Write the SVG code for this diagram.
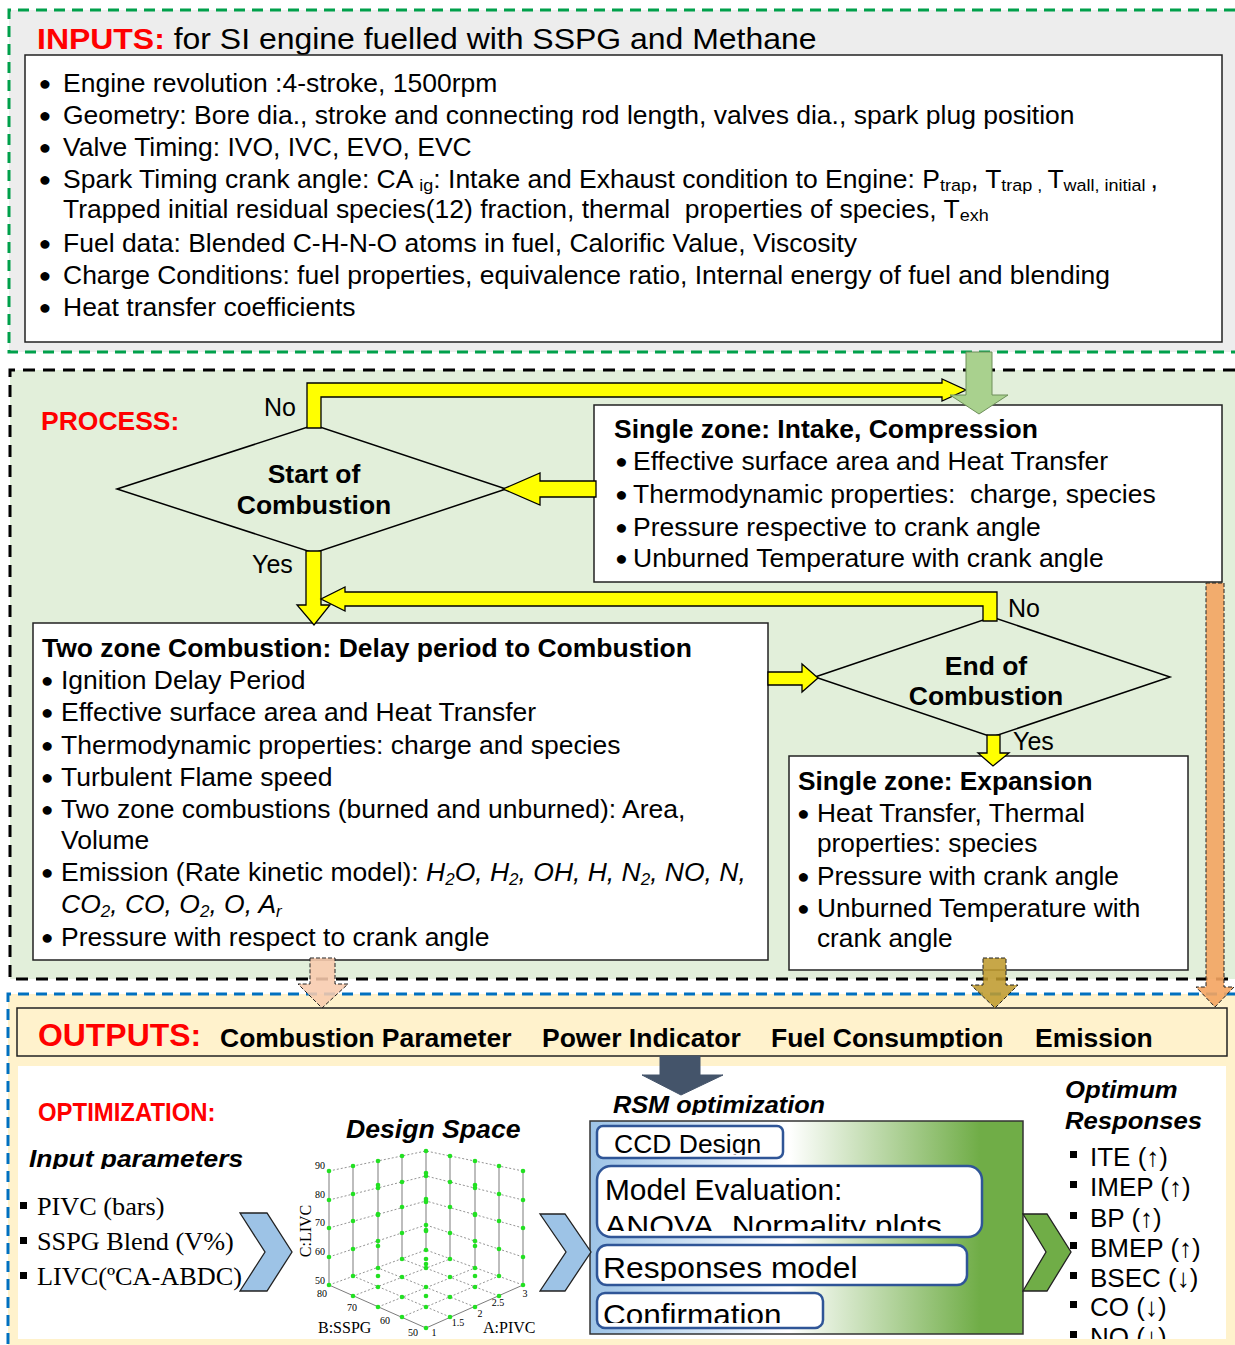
<svg xmlns="http://www.w3.org/2000/svg" width="1235" height="1345" viewBox="0 0 1235 1345">
<defs>
<style>
.t{font-family:"Liberation Sans",Arial,sans-serif;font-size:25px;fill:#000}
.bd{font-weight:bold}
.it{font-style:italic}
.red{fill:#ff0000}
.sub{font-size:16px}
.bu{font-size:20px;text-anchor:middle}
.sv{font-family:"Liberation Serif","Times New Roman",serif;font-size:25px;fill:#000}
.tk{font-family:"Liberation Serif","Times New Roman",serif;font-size:10px;fill:#000}
.ax{font-family:"Liberation Serif","Times New Roman",serif;font-size:16px;fill:#000}
.box{fill:#fff;stroke:#222;stroke-width:1.5}
.dia{fill:none;stroke:#000;stroke-width:1.5}
.yel{fill:#ffff00;stroke:#000;stroke-width:1.3}
.rb{fill:#fff;stroke:#2f5597;stroke-width:2.5}
.gl{stroke:#444;stroke-width:.7;fill:none}
.gd{stroke:#666;stroke-width:.7;stroke-dasharray:2,2;fill:none}
.dsh{stroke:#222;stroke-width:1;stroke-dasharray:4,2}
</style>
<linearGradient id="rsmGrad" x1="0" y1="0" x2="1" y2="0">
<stop offset="0" stop-color="#9dc3e6"/><stop offset="0.46" stop-color="#ffffff"/><stop offset="0.9" stop-color="#70ad47"/><stop offset="1" stop-color="#70ad47"/>
</linearGradient>
<clipPath id="cOut"><rect x="17" y="1008" width="1210" height="40"/></clipPath>
<clipPath id="cPanel"><rect x="18" y="1066" width="1208" height="273"/></clipPath>
<clipPath id="cInp"><rect x="18" y="1130" width="300" height="39"/></clipPath>
<clipPath id="cRsm"><rect x="590" y="1085" width="300" height="30"/></clipPath>
<clipPath id="cCcd"><rect x="597" y="1127" width="185" height="28"/></clipPath>
<clipPath id="cMod"><rect x="597" y="1167" width="383" height="64"/></clipPath>
<clipPath id="cResp"><rect x="597" y="1246" width="368" height="35"/></clipPath>
<clipPath id="cConf"><rect x="597" y="1294" width="224" height="29"/></clipPath>
<circle id="dot" r="2.3" fill="#22e022"/>
</defs>

<!-- backgrounds and region borders -->
<rect x="9" y="10" width="1226" height="342" fill="#ededed"/>
<rect x="10" y="370" width="1225" height="609" fill="#e2efda"/>
<rect x="8" y="994" width="1227" height="351" fill="#fff2cc"/>
<path d="M1235,10 H9 V352 H1235" fill="none" stroke="#00a04b" stroke-width="3" stroke-dasharray="11,7"/>
<path d="M1235,370 H10 V979 H1235" fill="none" stroke="#000" stroke-width="3" stroke-dasharray="12,8"/>
<path d="M1235,994 H8 V1345" fill="none" stroke="#0070c0" stroke-width="3" stroke-dasharray="11,7"/>

<!-- INPUTS -->
<g id="inputs">
<g transform="translate(37,0) scale(1.065,1)">
<text x="0" y="49" class="t bd red" style="font-size:30px">INPUTS:<tspan style="font-weight:normal;fill:#000"> for SI engine fuelled with SSPG and Methane</tspan></text>
</g>
<rect x="25" y="55" width="1197" height="287" class="box"/>
<g transform="translate(63,0) scale(1.06,1)" class="t">
<text x="-17" y="90" class="bu">●</text><text x="0" y="92">Engine revolution :4-stroke, 1500rpm</text>
<text x="-17" y="122" class="bu">●</text><text x="0" y="124">Geometry: Bore dia., stroke and connecting rod length, valves dia., spark plug position</text>
<text x="-17" y="154" class="bu">●</text><text x="0" y="156">Valve Timing: IVO, IVC, EVO, EVC</text>
<text x="-17" y="186" class="bu">●</text><text x="0" y="188">Spark Timing crank angle: CA <tspan style="font-size:17px" dy="3">ig</tspan><tspan dy="-3">: Intake and Exhaust condition to Engine: P</tspan><tspan style="font-size:17px" dy="3">trap</tspan><tspan dy="-3">, T</tspan><tspan style="font-size:17px" dy="3">trap , </tspan><tspan dy="-3">T</tspan><tspan style="font-size:17px" dy="3">wall, initial </tspan><tspan dy="-3">,</tspan></text>
<text x="0" y="218" style="white-space:pre">Trapped initial residual species(12) fraction, thermal  properties of species, T<tspan style="font-size:17px" dy="3">exh</tspan></text>
<text x="-17" y="250" class="bu">●</text><text x="0" y="252">Fuel data: Blended C-H-N-O atoms in fuel, Calorific Value, Viscosity</text>
<text x="-17" y="282" class="bu">●</text><text x="0" y="284">Charge Conditions: fuel properties, equivalence ratio, Internal energy of fuel and blending</text>
<text x="-17" y="314" class="bu">●</text><text x="0" y="316">Heat transfer coefficients</text>
</g>
</g>

<!-- PROCESS -->
<g id="process-label">
<g transform="translate(41,0) scale(1.06,1)"><text x="0" y="430" class="t bd red">PROCESS:</text></g>
</g>

<g id="start-of-combustion">
<polygon points="117,489 314,425 506,489 314,553" class="dia"/>
<g transform="translate(314,0) scale(1.06,1)" class="t bd">
<text x="0" y="483" text-anchor="middle">Start of</text>
<text x="0" y="514" text-anchor="middle">Combustion</text>
</g>
<text x="264" y="416" class="t">No</text>
<text x="252" y="573" class="t">Yes</text>
</g>

<g id="single-zone-intake">
<rect x="594" y="405" width="628" height="177" class="box"/>
<g transform="translate(614,0) scale(1.06,1)"><text x="0" y="438" class="t bd">Single zone: Intake, Compression</text></g>
<g transform="translate(633,0) scale(1.06,1)" class="t">
<text x="-11" y="468" class="bu">●</text><text x="0" y="470">Effective surface area and Heat Transfer</text>
<text x="-11" y="501" class="bu">●</text><text x="0" y="503" style="white-space:pre">Thermodynamic properties:  charge, species</text>
<text x="-11" y="534" class="bu">●</text><text x="0" y="536">Pressure respective to crank angle</text>
<text x="-11" y="565" class="bu">●</text><text x="0" y="567">Unburned Temperature with crank angle</text>
</g>
</g>

<g id="two-zone-combustion">
<rect x="33" y="623" width="735" height="337" class="box"/>
<g transform="translate(42,0) scale(1.06,1)"><text x="0" y="657" class="t bd">Two zone Combustion: Delay period to Combustion</text></g>
<g transform="translate(61,0) scale(1.06,1)" class="t">
<text x="-13" y="687" class="bu">●</text><text x="0" y="689">Ignition Delay Period</text>
<text x="-13" y="719" class="bu">●</text><text x="0" y="721">Effective surface area and Heat Transfer</text>
<text x="-13" y="752" class="bu">●</text><text x="0" y="754">Thermodynamic properties: charge and species</text>
<text x="-13" y="784" class="bu">●</text><text x="0" y="786">Turbulent Flame speed</text>
<text x="-13" y="816" class="bu">●</text><text x="0" y="818">Two zone combustions (burned and unburned): Area,</text>
<text x="0" y="849">Volume</text>
<text x="-13" y="879" class="bu">●</text><text x="0" y="881">Emission (Rate kinetic model): <tspan class="it">H</tspan><tspan class="it sub" dy="4">2</tspan><tspan class="it" dy="-4">O, H</tspan><tspan class="it sub" dy="4">2</tspan><tspan class="it" dy="-4">, OH, H, N</tspan><tspan class="it sub" dy="4">2</tspan><tspan class="it" dy="-4">, NO, N,</tspan></text>
<text x="0" y="913" class="it">CO<tspan class="sub" dy="4">2</tspan><tspan dy="-4">, CO, O</tspan><tspan class="sub" dy="4">2</tspan><tspan dy="-4">, O, A</tspan><tspan class="sub" dy="4">r</tspan></text>
<text x="-13" y="944" class="bu">●</text><text x="0" y="946">Pressure with respect to crank angle</text>
</g>
</g>

<g id="end-of-combustion">
<polygon points="815,677 992,617 1170,677 992,737" class="dia"/>
<g transform="translate(986,0) scale(1.06,1)" class="t bd">
<text x="0" y="675" text-anchor="middle">End of</text>
<text x="0" y="705" text-anchor="middle">Combustion</text>
</g>
<text x="1008" y="617" class="t">No</text>
<text x="1013" y="750" class="t">Yes</text>
</g>

<g id="single-zone-expansion">
<rect x="789" y="756" width="399" height="214" class="box"/>
<g transform="translate(798,0) scale(1.05,1)"><text x="0" y="790" class="t bd">Single zone: Expansion</text></g>
<g transform="translate(817,0) scale(1.05,1)" class="t">
<text x="-13" y="820" class="bu">●</text><text x="0" y="822">Heat Transfer, Thermal</text>
<text x="0" y="852">properties: species</text>
<text x="-13" y="883" class="bu">●</text><text x="0" y="885">Pressure with crank angle</text>
<text x="-13" y="915" class="bu">●</text><text x="0" y="917">Unburned Temperature with</text>
<text x="0" y="947">crank angle</text>
</g>
</g>

<!-- OUTPUTS -->
<g id="outputs">
<rect x="17" y="1008" width="1210" height="48" fill="#fff2cc" stroke="#222" stroke-width="1.5"/>
<g clip-path="url(#cOut)">
<g transform="translate(38,0) scale(1.03,1)"><text x="0" y="1046" class="t bd red" style="font-size:31px">OUTPUTS:</text></g>
<g transform="translate(220,0) scale(1.06,1)"><text x="0" y="1047" class="t bd">Combustion Parameter</text></g>
<g transform="translate(542,0) scale(1.06,1)"><text x="0" y="1047" class="t bd">Power Indicator</text></g>
<g transform="translate(771,0) scale(1.06,1)"><text x="0" y="1047" class="t bd">Fuel Consumption</text></g>
<g transform="translate(1035,0) scale(1.06,1)"><text x="0" y="1047" class="t bd">Emission</text></g>
</g>
</g>

<!-- OPTIMIZATION panel -->
<rect x="18" y="1066" width="1208" height="273" fill="#fff"/>

<g id="optimization-inputs">
<g transform="translate(38,0) scale(0.92,1)"><text x="0" y="1121" class="t bd red" style="font-size:26px">OPTIMIZATION:</text></g>
<g clip-path="url(#cInp)"><g transform="translate(29,0) scale(1.1,1)"><text x="0" y="1167" class="t bd it" style="font-size:24px">Input parameters</text></g></g>
<rect x="20" y="1202" width="7" height="7" fill="#000"/>
<rect x="20" y="1237" width="7" height="7" fill="#000"/>
<rect x="20" y="1272" width="7" height="7" fill="#000"/>
<g transform="translate(37,0) scale(1.05,1)">
<text x="0" y="1215" class="sv">PIVC (bars)</text>
<text x="0" y="1250" class="sv">SSPG Blend (V%)</text>
<text x="0" y="1285" class="sv">LIVC(ºCA-ABDC)</text>
</g>
</g>

<g id="design-space" clip-path="url(#cPanel)">
<g transform="translate(346,0) scale(1.065,1)"><text x="0" y="1138" class="t bd it">Design Space</text></g>
<path class="gd" d="M329,1171 L426,1151 L523,1171 M329,1257 L426,1225 M329,1228 L426,1201 M329,1200 L426,1176 M523,1257 L426,1225 M523,1228 L426,1201 M523,1200 L426,1176 M450,1317 L353,1276 M475,1307 L378,1268 M499,1296 L402,1259 M402,1317 L499,1276 M378,1307 L475,1268 M353,1296 L450,1259 M329,1285 L426,1250 L523,1285"/>
<path class="gl" d="M329,1171 V1285 M426,1151 V1250 M523,1171 V1285 M353,1166 V1276 M378,1161 V1268 M402,1156 V1259 M499,1166 V1276 M475,1161 V1268 M450,1156 V1259 M329,1285 L426,1328 L523,1285"/>
<g>
<use href="#dot" x="329" y="1285"/><use href="#dot" x="329" y="1257"/><use href="#dot" x="329" y="1228"/><use href="#dot" x="329" y="1200"/><use href="#dot" x="329" y="1171"/>
<use href="#dot" x="353" y="1276"/><use href="#dot" x="353" y="1249"/><use href="#dot" x="353" y="1221"/><use href="#dot" x="353" y="1194"/><use href="#dot" x="353" y="1166"/>
<use href="#dot" x="378" y="1268"/><use href="#dot" x="378" y="1241"/><use href="#dot" x="378" y="1214"/><use href="#dot" x="378" y="1188"/><use href="#dot" x="378" y="1161"/>
<use href="#dot" x="402" y="1259"/><use href="#dot" x="402" y="1233"/><use href="#dot" x="402" y="1207"/><use href="#dot" x="402" y="1182"/><use href="#dot" x="402" y="1156"/>
<use href="#dot" x="426" y="1250"/><use href="#dot" x="426" y="1225"/><use href="#dot" x="426" y="1201"/><use href="#dot" x="426" y="1176"/><use href="#dot" x="426" y="1151"/>
<use href="#dot" x="523" y="1285"/><use href="#dot" x="523" y="1257"/><use href="#dot" x="523" y="1228"/><use href="#dot" x="523" y="1200"/><use href="#dot" x="523" y="1171"/>
<use href="#dot" x="499" y="1276"/><use href="#dot" x="499" y="1249"/><use href="#dot" x="499" y="1221"/><use href="#dot" x="499" y="1194"/><use href="#dot" x="499" y="1166"/>
<use href="#dot" x="475" y="1268"/><use href="#dot" x="475" y="1241"/><use href="#dot" x="475" y="1214"/><use href="#dot" x="475" y="1188"/><use href="#dot" x="475" y="1161"/>
<use href="#dot" x="450" y="1259"/><use href="#dot" x="450" y="1233"/><use href="#dot" x="450" y="1207"/><use href="#dot" x="450" y="1182"/><use href="#dot" x="450" y="1156"/>
<use href="#dot" x="426" y="1328"/><use href="#dot" x="402" y="1317"/><use href="#dot" x="378" y="1307"/><use href="#dot" x="353" y="1296"/>
<use href="#dot" x="450" y="1317"/><use href="#dot" x="426" y="1307"/><use href="#dot" x="402" y="1297"/><use href="#dot" x="378" y="1287"/>
<use href="#dot" x="475" y="1307"/><use href="#dot" x="450" y="1297"/><use href="#dot" x="426" y="1287"/><use href="#dot" x="402" y="1277"/>
<use href="#dot" x="499" y="1296"/><use href="#dot" x="475" y="1287"/><use href="#dot" x="450" y="1277"/><use href="#dot" x="426" y="1268"/>
<use href="#dot" x="426" y="1296"/><use href="#dot" x="426" y="1264"/><use href="#dot" x="426" y="1231"/><use href="#dot" x="426" y="1199"/>
<use href="#dot" x="426" y="1259"/><use href="#dot" x="426" y="1230"/><use href="#dot" x="426" y="1202"/><use href="#dot" x="426" y="1173"/>
<use href="#dot" x="378" y="1276"/><use href="#dot" x="378" y="1246"/><use href="#dot" x="378" y="1215"/><use href="#dot" x="378" y="1185"/>
<use href="#dot" x="475" y="1276"/><use href="#dot" x="475" y="1246"/><use href="#dot" x="475" y="1215"/><use href="#dot" x="475" y="1185"/>
</g>
<text x="325" y="1169" class="tk" text-anchor="end">90</text>
<text x="325" y="1198" class="tk" text-anchor="end">80</text>
<text x="325" y="1226" class="tk" text-anchor="end">70</text>
<text x="325" y="1255" class="tk" text-anchor="end">60</text>
<text x="325" y="1284" class="tk" text-anchor="end">50</text>
<text x="322" y="1297" class="tk" text-anchor="middle">80</text>
<text x="352" y="1311" class="tk" text-anchor="middle">70</text>
<text x="385" y="1324" class="tk" text-anchor="middle">60</text>
<text x="413" y="1336" class="tk" text-anchor="middle">50</text>
<text x="434" y="1336" class="tk" text-anchor="middle">1</text>
<text x="458" y="1326" class="tk" text-anchor="middle">1.5</text>
<text x="480" y="1317" class="tk" text-anchor="middle">2</text>
<text x="498" y="1306" class="tk" text-anchor="middle">2.5</text>
<text x="525" y="1297" class="tk" text-anchor="middle">3</text>
<text x="318" y="1333" class="ax">B:SSPG</text>
<text x="483" y="1333" class="ax">A:PIVC</text>
<text transform="translate(311,1231) rotate(-90)" class="ax" text-anchor="middle">C:LIVC</text>
</g>

<g id="rsm-optimization">
<g clip-path="url(#cRsm)"><g transform="translate(613,0) scale(1.054,1)"><text x="0" y="1113" class="t bd it" style="font-size:24px">RSM optimization</text></g></g>
<rect x="590" y="1121" width="433" height="213" fill="url(#rsmGrad)" stroke="#333" stroke-width="1.5"/>
<g id="ccd-design">
<rect x="597" y="1126" width="186" height="32" rx="6" class="rb"/>
<g clip-path="url(#cCcd)"><g transform="translate(614,0) scale(1.06,1)"><text x="0" y="1153" class="t">CCD Design</text></g></g>
</g>
<g id="model-evaluation">
<rect x="597" y="1166" width="385" height="71" rx="14" class="rb"/>
<g clip-path="url(#cMod)">
<g transform="translate(605,0) scale(1.03,1)"><text x="0" y="1200" class="t" style="font-size:29px">Model Evaluation:</text></g>
<text x="605" y="1236" class="t" style="font-size:29px" textLength="337" lengthAdjust="spacingAndGlyphs">ANOVA, Normality plots</text>
</g>
</g>
<g id="responses-model">
<rect x="597" y="1245" width="370" height="40" rx="10" class="rb"/>
<g clip-path="url(#cResp)"><g transform="translate(603,0) scale(1.06,1)"><text x="0" y="1278" class="t" style="font-size:30px">Responses model</text></g></g>
</g>
<g id="confirmation">
<rect x="597" y="1293" width="226" height="35" rx="8" class="rb"/>
<g clip-path="url(#cConf)"><g transform="translate(603,0) scale(1.05,1)"><text x="0" y="1325" class="t" style="font-size:30px">Confirmation</text></g></g>
</g>
</g>

<g id="optimum-responses" clip-path="url(#cPanel)">
<g transform="translate(1065,0) scale(1.07,1)" class="t bd it" style="font-size:24px">
<text x="0" y="1098">Optimum</text>
<text x="0" y="1129">Responses</text>
</g>
<g fill="#000">
<rect x="1070" y="1151" width="7" height="7"/>
<rect x="1070" y="1181" width="7" height="7"/>
<rect x="1070" y="1212" width="7" height="7"/>
<rect x="1070" y="1242" width="7" height="7"/>
<rect x="1070" y="1272" width="7" height="7"/>
<rect x="1070" y="1301" width="7" height="7"/>
<rect x="1070" y="1331" width="7" height="7"/>
</g>
<g class="t" style="font-size:26px">
<text x="1090" y="1166">ITE (↑)</text>
<text x="1090" y="1196">IMEP (↑)</text>
<text x="1090" y="1227">BP (↑)</text>
<text x="1090" y="1257">BMEP (↑)</text>
<text x="1090" y="1287">BSEC (↓)</text>
<text x="1090" y="1316">CO (↓)</text>
<text x="1090" y="1346">NO (↓)</text>
</g>
</g>

<!-- CONNECTORS -->
<g id="connectors">
<polygon class="yel" points="307,428 307,383 942,383 942,379 966,390 942,401 942,397 321,397 321,428"/>
<polygon points="966,352 992,352 992,395 1008,395 979,414 950,395 966,395" fill="#a9d18e" stroke="#6e8f5a" stroke-width="1"/>
<polygon class="yel" points="596,481 540,481 540,473 503,489 540,505 540,497 596,497"/>
<polygon class="yel" points="306,551 321,551 321,605 330,605 314,625 297,605 306,605"/>
<polygon class="yel" points="983,621 983,606 345,606 345,611 321,599 345,587 345,592 997,592 997,621"/>
<polygon class="yel" points="768,672 802,672 802,664 818,678 802,692 802,685 768,685"/>
<polygon class="yel" points="987,735 1000,735 1000,753 1009,753 993,766 978,753 987,753"/>
<polygon class="dsh" points="1206,583 1224,583 1224,987 1234,987 1215,1007 1196,987 1206,987" fill="#f4a460" fill-opacity="0.9"/>
<polygon class="dsh" points="310,958 335,958 335,984 348,984 322,1008 298,984 310,984" fill="#f8cbad" fill-opacity="0.88"/>
<polygon class="dsh" points="983,958 1006,958 1006,985 1018,985 995,1008 971,985 983,985" fill="#bf9b2f" fill-opacity="0.88"/>
<polygon points="660,1056 700,1056 700,1075 723,1075 681,1095 642,1075 660,1075" fill="#44546a" stroke="#44546a" stroke-width="1"/>
<polygon points="240,1213 267,1213 292,1252 267,1291 240,1291 265,1252" fill="#9dc3e6" stroke="#222" stroke-width="1.3"/>
<polygon points="540,1214 565,1214 591,1252 565,1291 540,1291 566,1252" fill="#9dc3e6" stroke="#222" stroke-width="1.3"/>
<polygon points="1023,1214 1047,1214 1071,1252 1047,1291 1023,1291 1046,1252" fill="#70ad47" stroke="#222" stroke-width="1.3"/>
</g>
</svg>
